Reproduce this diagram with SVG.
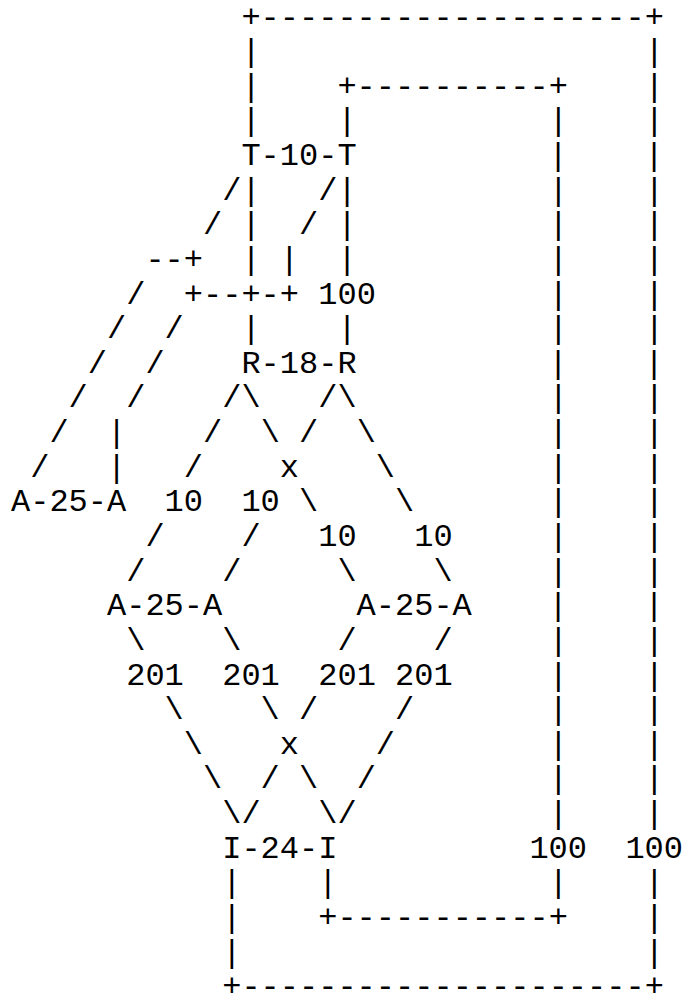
<svg xmlns="http://www.w3.org/2000/svg" width="683" height="996" viewBox="0 0 683 996" xml:space="preserve">
<style>
text { font-family: "Liberation Mono", "Courier New", monospace; font-size: 32px; fill: #000; white-space: pre; }
</style>
<rect x="0" y="0" width="683" height="996" fill="#fff"/>
<g id="connectors">
<text x="241.4" y="26.5">+--------------------+</text>
<text x="241.4" y="61.1">|                    |</text>
<text x="241.4" y="95.8">|    +----------+    |</text>
<text x="241.4" y="130.4">|    |          |    |</text>
<text x="548.6" y="165.0">|    |</text>
<text x="222.2" y="199.7">/|   /|          |    |</text>
<text x="203" y="234.3">/ |  / |          |    |</text>
<text x="145.4" y="268.9">--+  | |  |          |    |</text>
<text x="126.2" y="303.5">/  +--+-+ 100         |    |</text>
<text x="107" y="338.2">/  /   |    |          |    |</text>
<text x="87.8" y="372.8">/  /</text>
<text x="548.6" y="372.8">|    |</text>
<text x="68.6" y="407.4">/  /    /\   /\          |    |</text>
<text x="49.4" y="442.1">/  |    /  \ /  \         |    |</text>
<text x="30.2" y="476.7">/   |   /    x    \        |    |</text>
<text x="164.6" y="511.3">10  10 \    \       |    |</text>
<text x="145.4" y="545.9">/    /   10   10     |    |</text>
<text x="126.2" y="580.6">/    /     \    \     |    |</text>
<text x="548.6" y="615.2">|    |</text>
<text x="126.2" y="649.8">\    \     /    /     |    |</text>
<text x="126.2" y="684.5">201  201  201 201     |    |</text>
<text x="164.6" y="719.1">\    \ /    /       |    |</text>
<text x="183.8" y="753.7">\    x    /        |    |</text>
<text x="203" y="788.4">\  / \  /         |    |</text>
<text x="222.2" y="823.0">\/   \/          |    |</text>
<text x="529.4" y="857.6">100  100</text>
<text x="222.2" y="892.3">|    |           |    |</text>
<text x="222.2" y="926.9">|    +-----------+    |</text>
<text x="222.2" y="961.5">|                     |</text>
<text x="222.2" y="995.6">+---------------------+</text>
</g>
<g id="node-T"><text x="241.4" y="165.0">T-10-T</text></g>
<g id="node-R"><text x="241.4" y="372.8">R-18-R</text></g>
<g id="node-A1"><text x="11" y="511.3">A-25-A</text></g>
<g id="node-A2"><text x="107" y="615.2">A-25-A</text></g>
<g id="node-A3"><text x="356.6" y="615.2">A-25-A</text></g>
<g id="node-I"><text x="222.2" y="857.6">I-24-I</text></g>
</svg>
